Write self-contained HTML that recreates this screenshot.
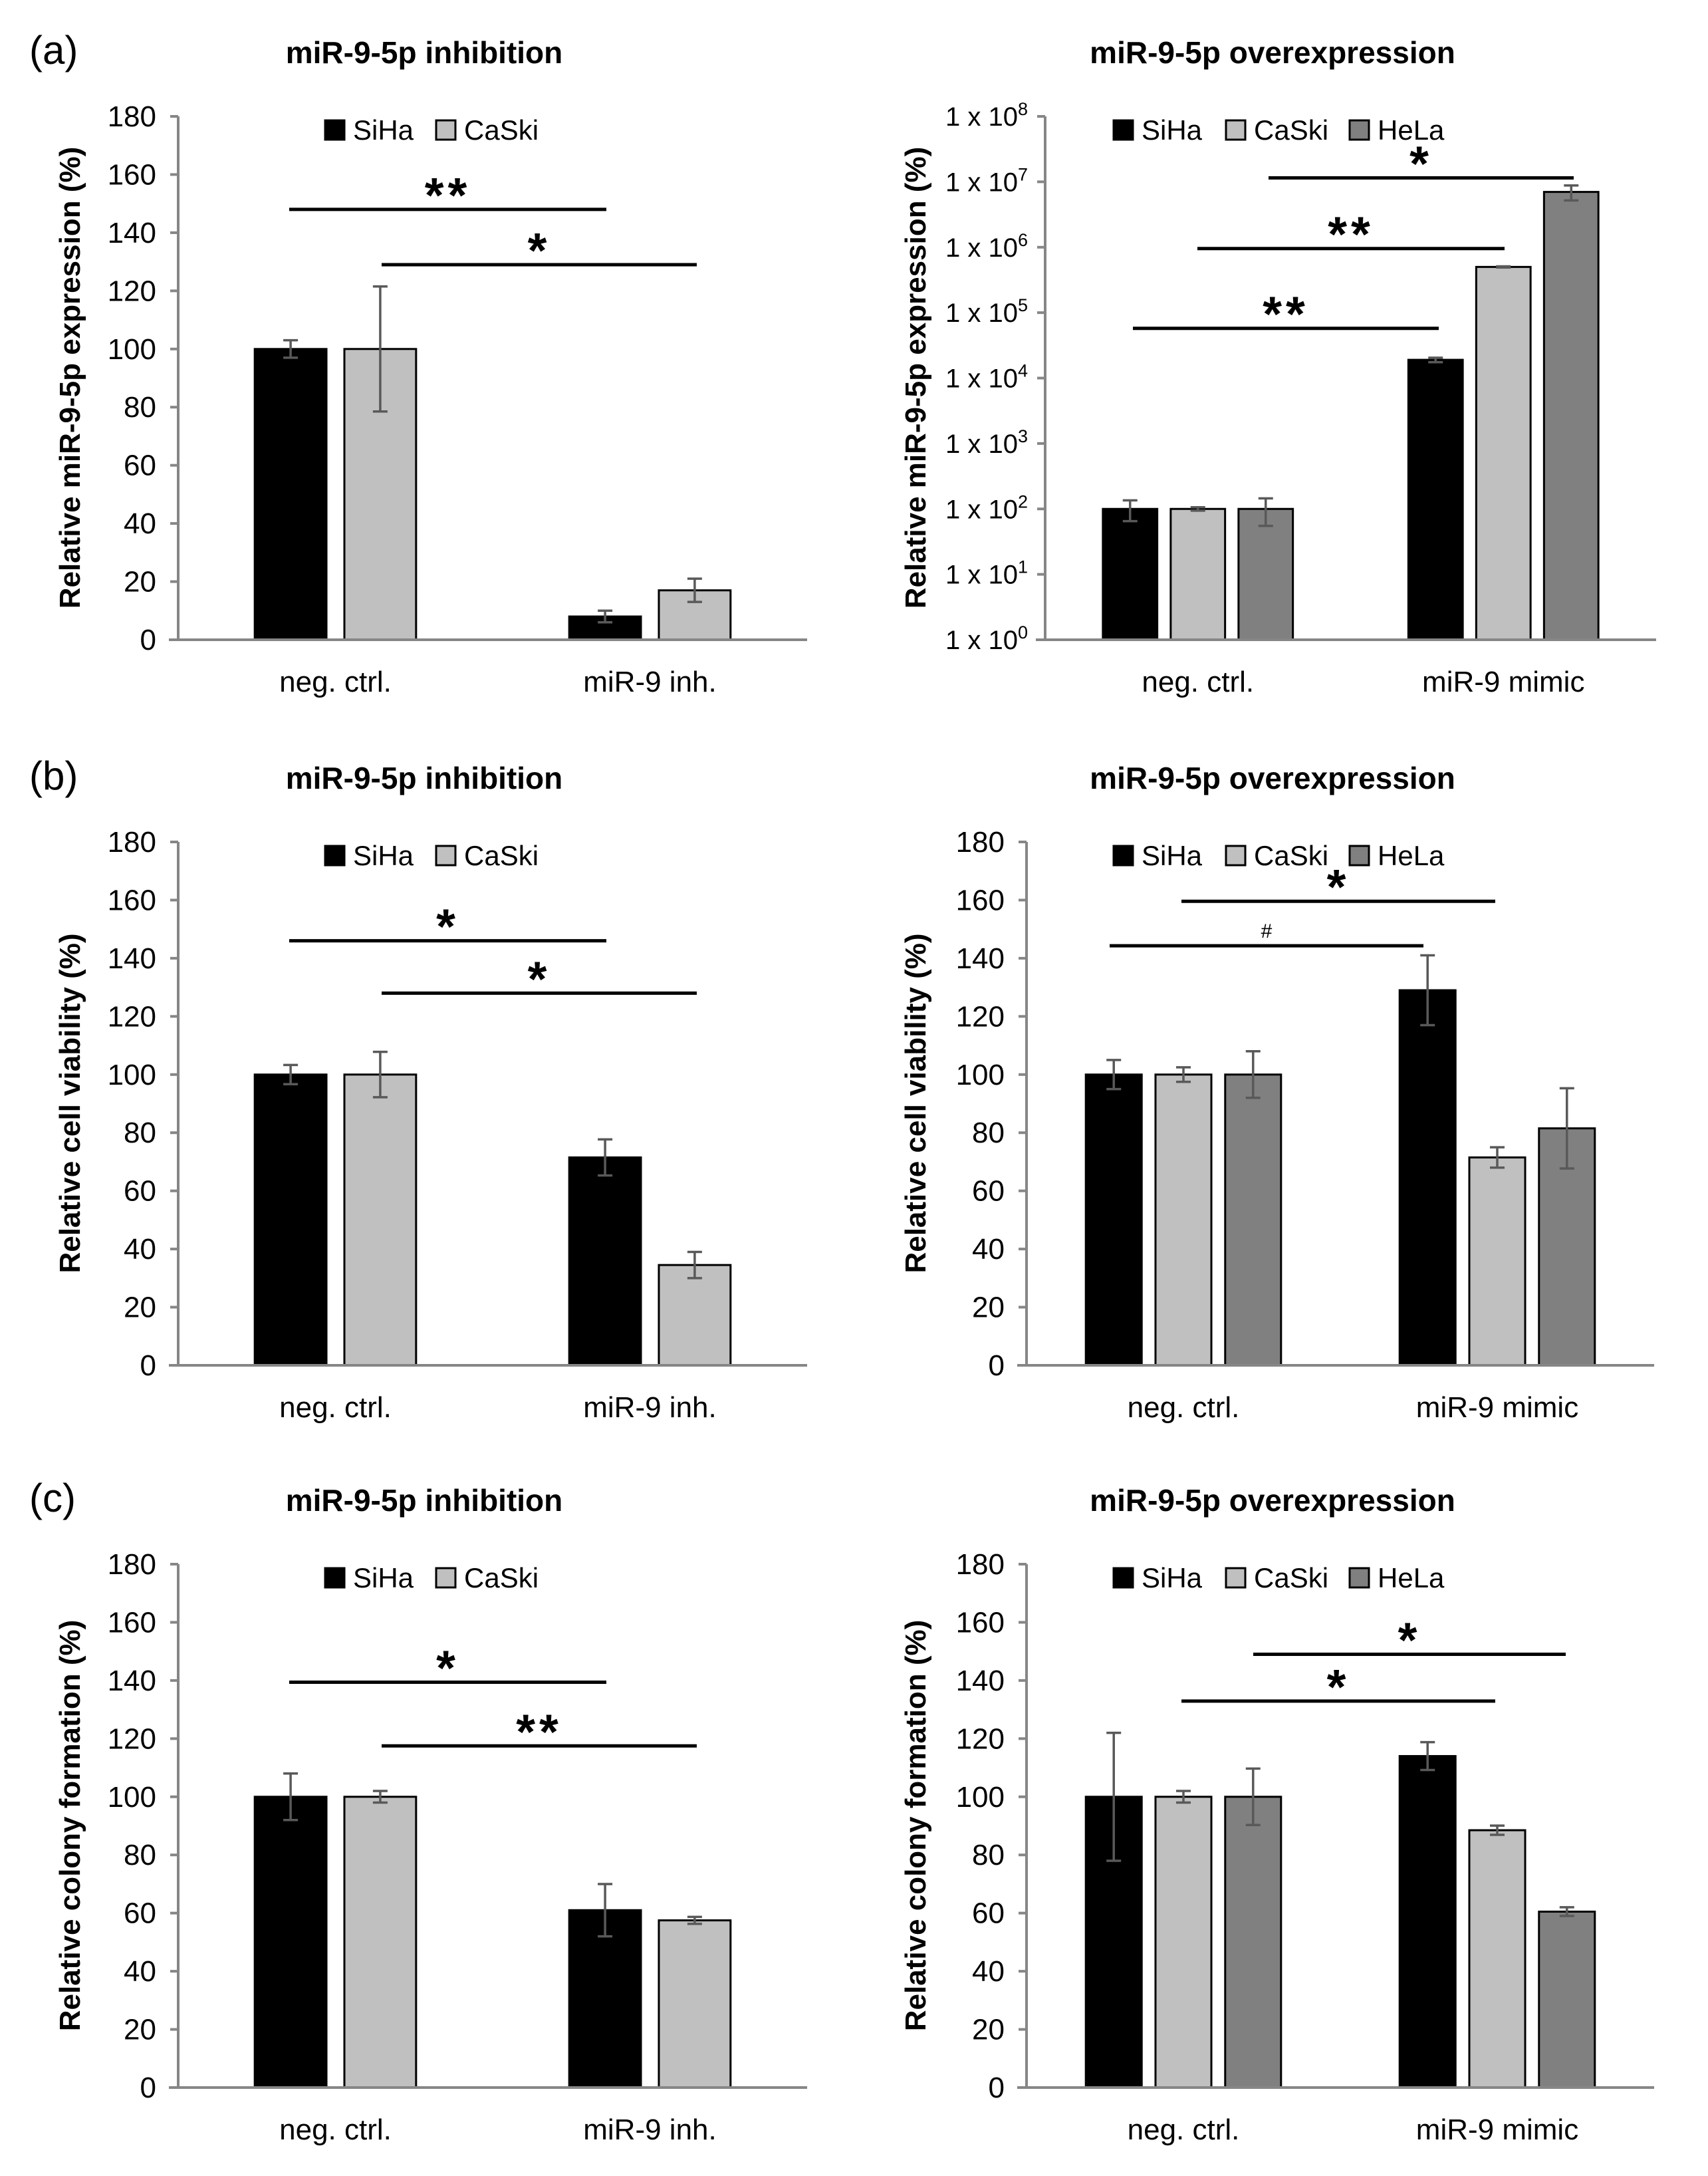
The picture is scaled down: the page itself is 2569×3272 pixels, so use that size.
<!DOCTYPE html>
<html><head><meta charset="utf-8">
<style>
html,body{margin:0;padding:0;background:#fff;}
svg{display:block;font-family:"Liberation Sans",sans-serif;}
</style></head>
<body>
<svg id="fig" width="2569" height="3272" viewBox="0 0 2569 3272" xmlns="http://www.w3.org/2000/svg">
<rect x="0" y="0" width="2569" height="3272" fill="#fff"/>
</svg>
<script>
// ---------- data ----------
const seriesNames = ["SiHa","CaSki","HeLa"];
const catsInh = ["neg. ctrl.","miR-9 inh."];
const catsMim = ["neg. ctrl.","miR-9 mimic"];
const linTicks = [0,20,40,60,80,100,120,140,160,180];
const logTicks = [0,1,2,3,4,5,6,7,8];

// (a) expression
const aInhVals = [[100,8],[100,17]];
const aInhErr  = [[3,2],[21.5,4]];
const aMimVals = [[100,19000],[100,500000],[100,7000000]];
const aMimErr  = [[35,1500],[6,10000],[45,1800000]];
// (b) viability
const bInhVals = [[100,71.5],[100,34.5]];
const bInhErr  = [[3.3,6.2],[7.8,4.5]];
const bMimVals = [[100,129],[100,71.5],[100,81.5]];
const bMimErr  = [[5,12],[2.5,3.5],[8,13.8]];
// (c) colony
const cInhVals = [[100,61],[100,57.5]];
const cInhErr  = [[8,9],[2,1.2]];
const cMimVals = [[100,114],[100,88.5],[100,60.5]];
const cMimErr  = [[22,4.8],[2,1.6],[9.7,1.5]];

// significance annotations: y in data units (log10 for log panel)
const aInhSig = [{x1:435,x2:912,y:148,label:"**"},{x1:574,x2:1048,y:129,label:"*"}];
const aMimSig = [{x1:1704,x2:2164,y:4.76,label:"**"},{x1:1801,x2:2263,y:5.98,label:"**"},{x1:1908,x2:2367,y:7.06,label:"*"}];
const bInhSig = [{x1:435,x2:912,y:146,label:"*"},{x1:574,x2:1048,y:128,label:"*"}];
const bMimSig = [{x1:1669,x2:2141,y:144.3,label:"#"},{x1:1777,x2:2249,y:159.6,label:"*"}];
const cInhSig = [{x1:435,x2:912,y:139.4,label:"*"},{x1:574,x2:1048,y:117.5,label:"**"}];
const cMimSig = [{x1:1777,x2:2249,y:132.9,label:"*"},{x1:1885,x2:2355,y:149,label:"*"}];

const colors = ["#000000","#c0c0c0","#808080"];
const NS="http://www.w3.org/2000/svg";
const svg=document.getElementById('fig');
function mk(tag,attrs,parent){const e=document.createElementNS(NS,tag);for(const k in attrs)e.setAttribute(k,attrs[k]);(parent||svg).appendChild(e);return e;}

function panel(o){
  const g=mk('g',{});
  
  
  const top=o.zero-787;
  const yScale = o.log ? (v=>o.zero-(Math.log10(Math.max(v,1))/8)*787) : (v=>o.zero-(v/180)*787);
  const yRaw = o.log ? (d=>o.zero-(d/8)*787) : yScale;
  const t=mk('text',{x:o.titleX,y:o.zero-867,'text-anchor':'middle','font-size':46,'font-weight':'bold',fill:'#000'},g);
  t.textContent=o.title;
  
  
  const yl=mk('text',{x:0,y:0,'text-anchor':'middle','font-size':44,'font-weight':'bold',fill:'#000',transform:`translate(${o.ylX},${o.zero-394}) rotate(-90)`},g);
  yl.textContent=o.ylabel;
  
  
  const ticks=o.log?logTicks:linTicks;
  ticks.forEach(tv=>{
    const y=o.log?yRaw(tv):yScale(tv);
    const tk=mk('line',{x1:o.ax-12,x2:o.ax,y1:y,y2:y,stroke:'#868686','stroke-width':4},g);
    
    
    let lb;
    if(o.log){
      lb=mk('text',{x:o.ax-26,y:y+14,'text-anchor':'end','font-size':40,fill:'#000'},g);
      const s1=mk('tspan',{},lb); s1.textContent='1 x 10';
      const s2=mk('tspan',{dy:-16,'font-size':27},lb); s2.textContent=String(tv);
    } else {
      lb=mk('text',{x:o.ax-33,y:y+15,'text-anchor':'end','font-size':44,fill:'#000'},g);
      lb.textContent=String(tv);
    }
    
    
  });
  const catW=(o.axR-o.ax)/2;
  const n=o.vals.length;
  const bw=catW*(n===2?0.228:0.178), step=catW*(n===2?0.285:0.222);
  o.cats.forEach((c,ci)=>{
    const cx=o.ax+catW*(ci+0.5);
    const cl=mk('text',{x:cx,y:o.zero+78,'text-anchor':'middle','font-size':44,fill:'#000'},g);
    cl.textContent=c;
    
    
    for(let s=0;s<n;s++){
      const bx=cx+(s-(n-1)/2)*step-bw/2;
      const v=o.vals[s][ci], e=o.errs[s][ci];
      const y=yScale(v);
      const r=mk('rect',{x:bx,y:y,width:bw,height:o.zero-y,fill:colors[s],stroke:'#000','stroke-width':3},g);
      
      
      const yt=yScale(v+e), yb=yScale(v-e), mx=bx+bw/2;
      const eb=mk('path',{d:`M${mx},${yt}V${yb}M${mx-11},${yt}H${mx+11}M${mx-11},${yb}H${mx+11}`,stroke:'#595959','stroke-width':3.5,fill:'none'},g);
      
      
    }
  });
  const axY=mk('line',{x1:o.ax,x2:o.ax,y1:top,y2:o.zero,stroke:'#868686','stroke-width':4},g);
  
  
  const axX=mk('line',{x1:o.ax-14,x2:o.axR,y1:o.zero,y2:o.zero,stroke:'#868686','stroke-width':4},g);
  
  
  o.legX.forEach((lx,i)=>{
    const sq=mk('rect',{x:lx,y:o.zero-781,width:29,height:29,fill:colors[i],stroke:'#000','stroke-width':3},g);
    
    
    const lt=mk('text',{x:lx+42,y:o.zero-752,'font-size':42,fill:'#000'},g);
    lt.textContent=seriesNames[i];
    
    
  });
  o.sig.forEach(sg=>{
    const y=yRaw(sg.y);
    const ln=mk('line',{x1:sg.x1,x2:sg.x2,y1:y,y2:y,stroke:'#000','stroke-width':5},g);
    
    
    const isHash=sg.label==='#';
    const st=mk('text',{x:(sg.x1+sg.x2)/2,y:isHash?y-12:y+4,'text-anchor':'middle','font-size':isHash?30:74,'font-weight':isHash?'normal':'bold',fill:'#000','letter-spacing':isHash?0:6},g);
    st.textContent=sg.label;
    
    
  });
}

const zeros=[962,2053,3139];
const titles=["(a)","(b)","(c)"];
titles.forEach((tl,i)=>{
  const p=mk('text',{x:44,y:zeros[i]-866,'font-size':60,fill:'#000'});
  p.textContent=tl;
  
  
});

const leftLeg=[489,656];
const rightLeg=[1675,1844,2030];
panel({name:'chart-a-inhibition',zero:zeros[0],ax:268,axR:1214,title:'miR-9-5p inhibition',titleX:638,ylabel:'Relative miR-9-5p expression (%)',ylX:120,cats:catsInh,vals:aInhVals,errs:aInhErr,sig:aInhSig,legX:leftLeg,log:false});
panel({name:'chart-a-overexpression',zero:zeros[0],ax:1572,axR:2491,title:'miR-9-5p overexpression',titleX:1914,ylabel:'Relative miR-9-5p expression (%)',ylX:1392,cats:catsMim,vals:aMimVals,errs:aMimErr,sig:aMimSig,legX:rightLeg,log:true});
panel({name:'chart-b-inhibition',zero:zeros[1],ax:268,axR:1214,title:'miR-9-5p inhibition',titleX:638,ylabel:'Relative cell viability (%)',ylX:120,cats:catsInh,vals:bInhVals,errs:bInhErr,sig:bInhSig,legX:leftLeg,log:false});
panel({name:'chart-b-overexpression',zero:zeros[1],ax:1544,axR:2488,title:'miR-9-5p overexpression',titleX:1914,ylabel:'Relative cell viability (%)',ylX:1392,cats:catsMim,vals:bMimVals,errs:bMimErr,sig:bMimSig,legX:rightLeg,log:false});
panel({name:'chart-c-inhibition',zero:zeros[2],ax:268,axR:1214,title:'miR-9-5p inhibition',titleX:638,ylabel:'Relative colony formation (%)',ylX:120,cats:catsInh,vals:cInhVals,errs:cInhErr,sig:cInhSig,legX:leftLeg,log:false});
panel({name:'chart-c-overexpression',zero:zeros[2],ax:1544,axR:2488,title:'miR-9-5p overexpression',titleX:1914,ylabel:'Relative colony formation (%)',ylX:1392,cats:catsMim,vals:cMimVals,errs:cMimErr,sig:cMimSig,legX:rightLeg,log:false});
</script>
</body></html>
